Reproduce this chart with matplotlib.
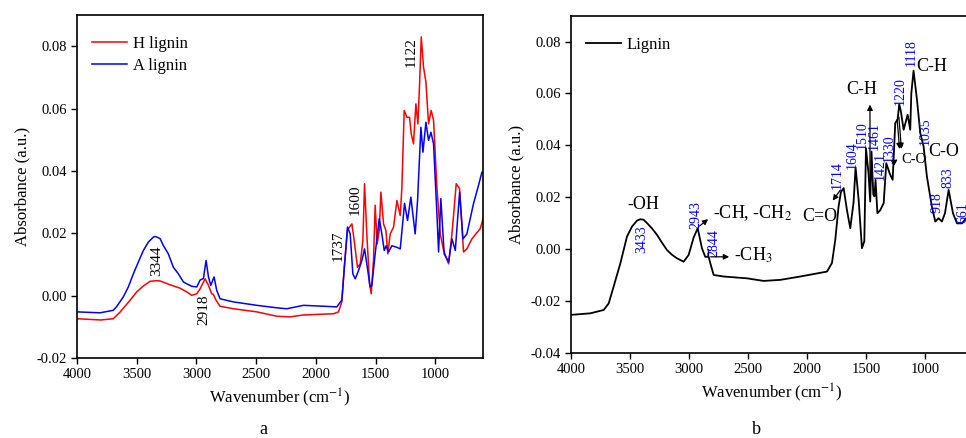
import matplotlib
matplotlib.use("Agg")
import matplotlib.pyplot as plt
from matplotlib.ticker import FormatStrFormatter, MultipleLocator

plt.rcParams["font.family"] = ["Liberation Serif", "DejaVu Serif"]
plt.rcParams["mathtext.fontset"] = "stix"
plt.rcParams["axes.unicode_minus"] = False

# --- panel a: H lignin / A lignin spectra ---
h_wn = [4000, 3800, 3696, 3640, 3556, 3500, 3444, 3388, 3332, 3304, 3221, 3137, 3081, 3039,
        2997, 2969, 2927, 2899, 2872, 2858, 2835, 2802, 2690, 2494, 2327, 2215, 2103, 1852,
        1810, 1782, 1762, 1735, 1718, 1698, 1679, 1651, 1628, 1606, 1592, 1573, 1550, 1536,
        1517, 1503, 1486, 1469, 1455, 1433, 1413, 1397, 1377, 1349, 1321, 1293, 1279, 1260,
        1237, 1215, 1201, 1182, 1162, 1145, 1131, 1117, 1098, 1078, 1056, 1034, 1014, 986,
        958, 930, 888, 860, 824, 796, 763, 735, 693, 623, 595]
h_abs = [-0.0074, -0.0078, -0.0074, -0.0053, -0.0015, 0.0012, 0.0031, 0.0046, 0.0048, 0.0047,
         0.0035, 0.0024, 0.0012, 0.0001, 0.0006, 0.0022, 0.0054, 0.0033, 0.0006, 0.0004,
         -0.0015, -0.0034, -0.0042, -0.0052, -0.0066, -0.0068, -0.0062, -0.0058, -0.0052,
         -0.0020, 0.0091, 0.0209, 0.0220, 0.0230, 0.0177, 0.0091, 0.0102, 0.0177, 0.0359,
         0.0198, 0.0038, 0.0006, 0.0113, 0.0290, 0.0166, 0.0209, 0.0332, 0.0230, 0.0209,
         0.0134, 0.0198, 0.0220, 0.0305, 0.0257, 0.0348, 0.0594, 0.0572, 0.0572, 0.0519,
         0.0487, 0.0615, 0.0551, 0.0679, 0.0830, 0.0733, 0.0685, 0.0551, 0.0594, 0.0562,
         0.0348, 0.0198, 0.0145, 0.0102, 0.0198, 0.0359, 0.0343, 0.0140, 0.0150, 0.0182,
         0.0215, 0.0252]

a_wn = [4000, 3807, 3696, 3668, 3612, 3570, 3528, 3486, 3444, 3402, 3360, 3346, 3332, 3304,
        3277, 3235, 3193, 3151, 3109, 3081, 3039, 2997, 2969, 2941, 2919, 2899, 2880, 2852,
        2830, 2802, 2690, 2494, 2327, 2243, 2103, 1824, 1782, 1754, 1735, 1712, 1690, 1670,
        1642, 1614, 1592, 1573, 1545, 1531, 1503, 1469, 1447, 1427, 1411, 1391, 1363, 1321,
        1293, 1257, 1232, 1204, 1168, 1148, 1120, 1103, 1078, 1056, 1036, 1014, 986, 972,
        953, 925, 888, 860, 832, 796, 768, 735, 679, 645, 609, 595]
a_abs = [-0.0052, -0.0055, -0.0047, -0.0035, -0.0004, 0.0028, 0.0070, 0.0108, 0.0145, 0.0172,
         0.0188, 0.0190, 0.0188, 0.0183, 0.0161, 0.0134, 0.0091, 0.0070, 0.0044, 0.0038,
         0.0030, 0.0028, 0.0050, 0.0055, 0.0113, 0.0060, 0.0033, 0.0060, 0.0017, -0.0010,
         -0.0020, -0.0031, -0.0039, -0.0042, -0.0031, -0.0036, -0.0014, 0.0124, 0.0220,
         0.0198, 0.0070, 0.0054, 0.0081, 0.0113, 0.0150, 0.0102, 0.0028, 0.0033, 0.0134,
         0.0247, 0.0198, 0.0145, 0.0160, 0.0140, 0.0160, 0.0155, 0.0150, 0.0296, 0.0241,
         0.0316, 0.0198, 0.0305, 0.0540, 0.0460, 0.0556, 0.0498, 0.0524, 0.0487, 0.0263,
         0.0140, 0.0311, 0.0134, 0.0108, 0.0182, 0.0145, 0.0332, 0.0182, 0.0198, 0.0296,
         0.0343, 0.0396, 0.0396]

# --- panel b: Lignin spectrum ---
l_wn = [4000, 3836, 3723, 3681, 3639, 3582, 3526, 3483, 3440, 3413, 3385, 3356, 3315, 3272,
        3230, 3187, 3145, 3102, 3046, 3004, 2961, 2927, 2891, 2863, 2834, 2820, 2792, 2707,
        2510, 2369, 2228, 2058, 1832, 1790, 1762, 1734, 1714, 1691, 1663, 1635, 1607, 1590,
        1564, 1536, 1516, 1502, 1480, 1466, 1455, 1440, 1430, 1421, 1405, 1381, 1352, 1330,
        1300, 1276, 1254, 1234, 1220, 1206, 1183, 1149, 1127, 1118, 1099, 1070, 1042, 1014,
        986, 944, 915, 887, 859, 833, 802, 765, 731, 689, 653, 620]
l_abs = [-0.0254, -0.0248, -0.0235, -0.0210, -0.0145, -0.0055, 0.0048, 0.0087, 0.0110, 0.0115,
         0.0113, 0.0100, 0.0080, 0.0055, 0.0025, -0.0004, -0.0022, -0.0036, -0.0049, -0.0023,
         0.0045, 0.0080, 0.0003, -0.0030, -0.0030, -0.0055, -0.0100, -0.0106, -0.0113,
         -0.0123, -0.0119, -0.0106, -0.0087, -0.0054, 0.0035, 0.0164, 0.0220, 0.0235,
         0.0150, 0.0080, 0.0180, 0.0315, 0.0190, 0.0003, 0.0030, 0.0389, 0.0290, 0.0183,
         0.0376, 0.0210, 0.0203, 0.0267, 0.0138, 0.0150, 0.0177, 0.0331, 0.0290, 0.0267,
         0.0486, 0.0500, 0.0559, 0.0530, 0.0460, 0.0518, 0.0460, 0.0600, 0.0688, 0.0576,
         0.0447, 0.0396, 0.0280, 0.0164, 0.0106, 0.0119, 0.0106, 0.0138, 0.0228, 0.0138,
         0.0099, 0.0099, 0.0119, 0.0125]

# peak labels: (text, wavenumber, absorbance)
a_labels = [("1122", 1205, 0.078), ("3344", 3329, 0.0113), ("2918", 2935, -0.0044),
            ("1737", 1812, 0.0161), ("1600", 1670, 0.0309)]
b_labels = [("3433", 3399, 0.0039), ("2943", 2942, 0.0132), ("2844", 2789, 0.0024),
            ("1714", 1748, 0.0286), ("1604", 1621, 0.0364), ("1510", 1536, 0.0441),
            ("1461", 1434, 0.0437), ("1421", 1384, 0.0321), ("1330", 1307, 0.0390),
            ("1220", 1214, 0.0611), ("1118", 1121, 0.0758), ("1035", 1003, 0.0456),
            ("918", 901, 0.0178), ("833", 808, 0.0275), ("661", 681, 0.0140)]

fig = plt.figure(figsize=(9.66, 4.38), dpi=100)
ax1 = fig.add_axes([0.0797, 0.1826, 0.4203, 0.7831])
ax2 = fig.add_axes([0.5911, 0.1947, 0.4156, 0.7694])

ax1.plot(h_wn, h_abs, color="red", lw=1.1, label="H lignin")
ax1.plot(a_wn, a_abs, color="blue", lw=1.1, label="A lignin")
ax1.set_xlim(4000, 600)
ax1.set_ylim(-0.02, 0.09)
ax1.yaxis.set_major_locator(MultipleLocator(0.02))
for txt, x, y in a_labels:
    ax1.text(x, y, txt, rotation=90, ha="center", va="center", fontsize=11)
ax1.legend(loc="upper left", bbox_to_anchor=(0.0, 0.982), frameon=False, fontsize=12,
           handlelength=2.1, handletextpad=0.35, borderaxespad=0.5, labelspacing=0.35)

ax2.plot(l_wn, l_abs, color="black", lw=1.3, label="Lignin")
ax2.set_xlim(4000, 600)
ax2.set_ylim(-0.04, 0.09)
ax2.yaxis.set_major_locator(MultipleLocator(0.02))
for txt, x, y in b_labels:
    ax2.text(x, y, txt, rotation=90, ha="center", va="center", fontsize=10, color="blue")
ax2.legend(loc="upper left", bbox_to_anchor=(0.0, 0.982), frameon=False, fontsize=12,
           handlelength=2.1, handletextpad=0.35, borderaxespad=0.5)

ax2.text(3390, 0.017, "-OH", ha="center", va="center", fontsize=13)
ax2.text(2800, 0.014, "-CH, -CH$_2$", ha="left", va="center", fontsize=13)
ax2.text(2620, -0.0023, "-CH$_3$", ha="left", va="center", fontsize=13)
ax2.text(1892, 0.0124, "C=O", ha="center", va="center", fontsize=13)
ax2.text(1536, 0.0615, "C-H", ha="center", va="center", fontsize=13)
ax2.text(1079, 0.0703, "C-H", ha="left", va="center", fontsize=13)
ax2.text(1206, 0.0344, "C-O", ha="left", va="center", fontsize=10.5)
ax2.text(977, 0.0375, "C-O", ha="left", va="center", fontsize=13)

arrow = dict(arrowstyle="-|>", color="black", lw=0.9, mutation_scale=8)
ax2.annotate("", xy=(2820, 0.0122), xytext=(2930, 0.0082), arrowprops=arrow)
ax2.annotate("", xy=(2637, -0.003), xytext=(2840, -0.003), arrowprops=arrow)
ax2.plot([2840, 2840], [-0.003, 0.0], color="black", lw=0.9)
ax2.annotate("", xy=(1798, 0.0178), xytext=(1705, 0.0236), arrowprops=arrow)
ax2.annotate("", xy=(1468, 0.0568), xytext=(1468, 0.019), arrowprops=arrow)
ax2.annotate("", xy=(1215, 0.0375), xytext=(1240, 0.051), arrowprops=arrow)
ax2.annotate("", xy=(1200, 0.0375), xytext=(1225, 0.052), arrowprops=arrow)
ax2.annotate("", xy=(1214, 0.0352), xytext=(1299, 0.0325), arrowprops=arrow)

for ax in (ax1, ax2):
    ax.yaxis.set_major_formatter(FormatStrFormatter("%.2f"))
    ax.set_xticks([4000, 3500, 3000, 2500, 2000, 1500, 1000])
    ax.tick_params(direction="out", labelsize=10.5, length=4, width=1.0)
    ax.set_xlabel("Wavenumber (cm$^{-1}$)", fontsize=12, labelpad=4)
    ax.set_ylabel("Absorbance (a.u.)", fontsize=12)
    for s in ax.spines.values():
        s.set_linewidth(1.2)

fig.text(263 / 966, 1 - 430 / 438, "a", ha="center", va="center", fontsize=13)
fig.text(756 / 966, 1 - 430 / 438, "b", ha="center", va="center", fontsize=13)

fig.savefig("out.png", dpi=100)
